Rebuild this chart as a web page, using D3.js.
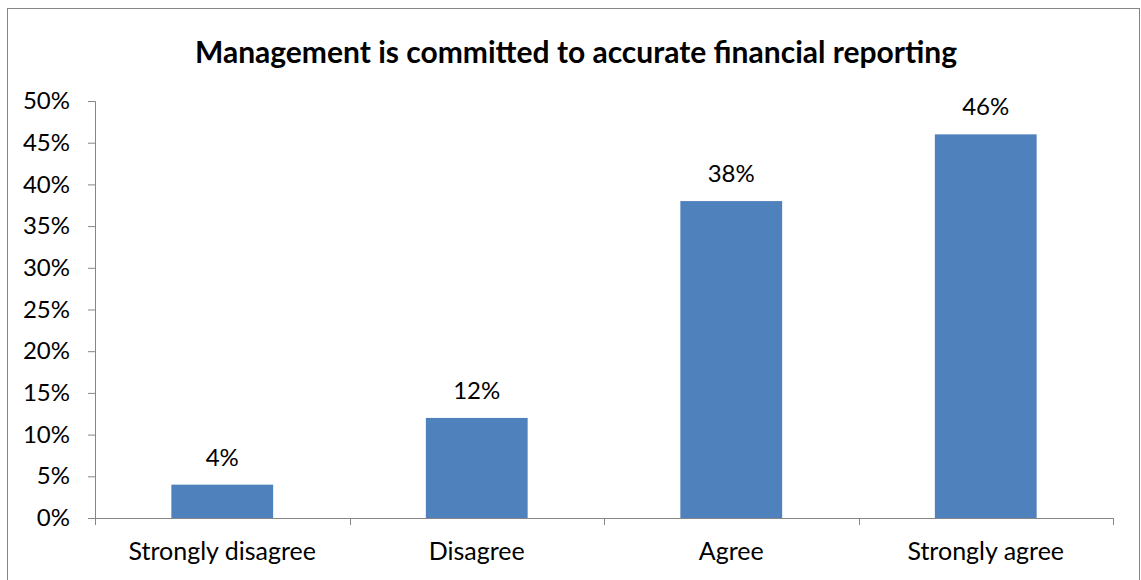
<!DOCTYPE html>
<html>
<head>
<meta charset="utf-8">
<script src="https://cdn.jsdelivr.net/npm/d3@7/dist/d3.min.js"></script>
<style>
  html, body { margin: 0; padding: 0; background: #fff; }
  svg { display: block; }
  text { font-family: Lato, "Open Sans", sans-serif; fill: #000; }
</style>
</head>
<body>
<svg id="chart" width="1141" height="580"></svg>
<script>
// Survey responses
const categories = ["Strongly disagree", "Disagree", "Agree", "Strongly agree"];
const shares = [4, 12, 38, 46];
const yTicks = [0, 5, 10, 15, 20, 25, 30, 35, 40, 45, 50];
const title = "Management is committed to accurate financial reporting";

const svg = d3.select("#chart");

// chart frame
svg.append("rect")
  .attr("x", 7.5).attr("y", 8.5)
  .attr("width", 1132).attr("height", 600)
  .attr("fill", "#fff").attr("stroke", "#868686").attr("stroke-width", 1);

const plot = { left: 95, right: 1113, top: 101, bottom: 518 };

const x = d3.scaleBand()
  .domain(categories)
  .range([plot.left, plot.right])
  .paddingInner(0.6)
  .paddingOuter(0.3);

const y = d3.scaleLinear()
  .domain([0, 50])
  .range([plot.bottom, plot.top]);

// title
svg.append("text")
  .attr("x", 576).attr("y", 63)
  .attr("text-anchor", "middle")
  .attr("font-size", 30).attr("font-weight", "bold")
  .text(title);

// bars
svg.append("g").selectAll("rect")
  .data(shares)
  .join("rect")
  .attr("x", (d, i) => x(categories[i]))
  .attr("y", d => y(d))
  .attr("width", x.bandwidth())
  .attr("height", d => y(0) - y(d))
  .attr("fill", "#4F81BD");

// value labels
svg.append("g").selectAll("text")
  .data(shares)
  .join("text")
  .attr("x", (d, i) => x(categories[i]) + x.bandwidth() / 2)
  .attr("y", d => y(d) - 19)
  .attr("text-anchor", "middle")
  .attr("font-size", 24)
  .text(d => d + "%");

// y axis
const yAxis = svg.append("g")
  .attr("transform", `translate(${plot.left},0)`)
  .call(d3.axisLeft(y).tickValues(yTicks).tickSize(7).tickPadding(18)
    .tickFormat(d => d + "%"));
yAxis.select(".domain").attr("stroke", "#868686");
yAxis.selectAll(".tick line").attr("stroke", "#868686");
yAxis.selectAll(".tick text")
  .attr("font-size", 24).attr("fill", "#000")
  .style("font-family", "Lato, 'Open Sans', sans-serif");

// x axis with ticks at category boundaries
const step = (plot.right - plot.left) / categories.length;
const xAxis = svg.append("g");
xAxis.append("line")
  .attr("x1", plot.left).attr("x2", plot.right)
  .attr("y1", plot.bottom + 0.5).attr("y2", plot.bottom + 0.5)
  .attr("stroke", "#868686");
xAxis.selectAll("line.tk")
  .data(d3.range(categories.length + 1))
  .join("line")
  .attr("class", "tk")
  .attr("x1", i => Math.round(plot.left + i * step) + 0.5)
  .attr("x2", i => Math.round(plot.left + i * step) + 0.5)
  .attr("y1", plot.bottom).attr("y2", plot.bottom + 7)
  .attr("stroke", "#868686");
xAxis.selectAll("text")
  .data(categories)
  .join("text")
  .attr("x", d => x(d) + x.bandwidth() / 2)
  .attr("y", 560)
  .attr("text-anchor", "middle")
  .attr("font-size", 25)
  .text(d => d);
</script>
</body>
</html>
